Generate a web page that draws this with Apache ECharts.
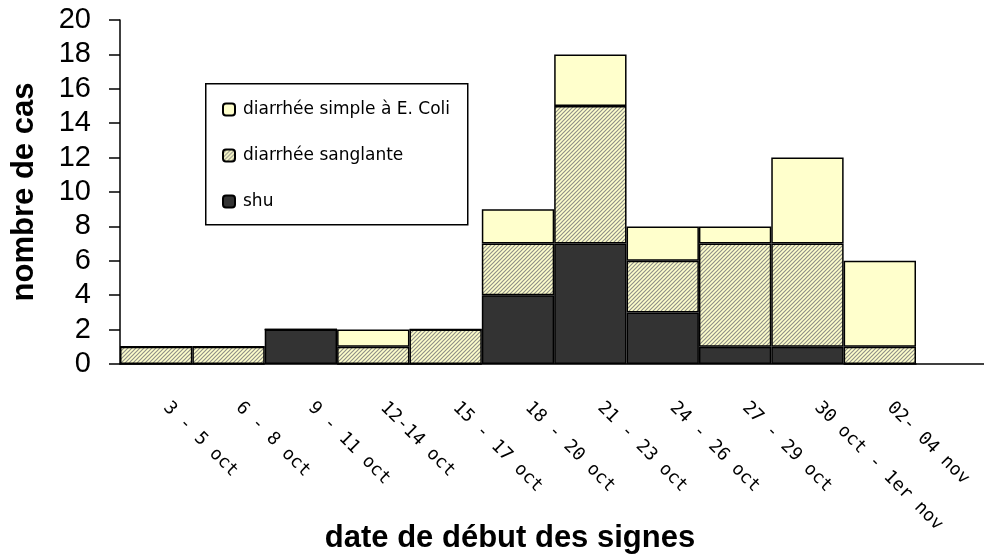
<!DOCTYPE html>
<html><head><meta charset="utf-8">
<script src="https://cdn.jsdelivr.net/npm/echarts@6/dist/echarts.min.js"></script>
<style>html,body{margin:0;padding:0;background:#fff}#c{width:984px;height:558px}</style>
</head><body><div id="c"></div>
<script>
const categories = ["3 - 5 oct", "6 - 8 oct", "9 - 11 oct", "12-14 oct", "15 - 17 oct", "18 - 20 oct", "21 - 23 oct", "24 - 26 oct", "27 - 29 oct", "30 oct - 1er nov", "02- 04 nov"];
const shu = [0, 0, 2, 0, 0, 4, 7, 3, 1, 1, 0];
const sanglante = [1, 1, 0, 1, 2, 3, 8, 3, 6, 6, 1];
const simple = [0, 0, 0, 1, 0, 2, 3, 2, 1, 5, 5];
const seriesNames = ["shu", "diarrhée sanglante", "diarrhée simple à E. Coli"];
const yTicks = [0, 2, 4, 6, 8, 10, 12, 14, 16, 18, 20];

const pc = document.createElement('canvas');
pc.width = 4; pc.height = 4;
const g = pc.getContext('2d');
g.fillStyle = '#FFFFCC'; g.fillRect(0, 0, 4, 4);
g.strokeStyle = '#909088'; g.lineWidth = 1.2;
g.beginPath();
g.moveTo(-1, 5); g.lineTo(5, -1);
g.moveTo(-1, 1); g.lineTo(1, -1);
g.moveTo(3, 5); g.lineTo(5, 3);
g.stroke();
const hatch = { image: pc, repeat: 'repeat' };

const chart = echarts.init(document.getElementById('c'));
const font = 'Liberation Sans, Arial, sans-serif';
function bar(name, data, color) {
  return {
    name: name, type: 'bar', stack: 'all', data: data, barCategoryGap: 0,
    itemStyle: { color: color, borderColor: '#000', borderWidth: 1.5 },
    emphasis: { disabled: true }
  };
}
chart.setOption({
  animation: false,
  textStyle: { fontFamily: font },
  grid: { left: 120, top: 20, bottom: 194, width: 796 },
  legend: {
    left: 222, top: 101, padding: 0, orient: 'vertical', itemGap: 29,
    itemWidth: 12, itemHeight: 12,
    data: [seriesNames[2], seriesNames[1], seriesNames[0]],
    textStyle: { fontSize: 17, lineHeight: 17, color: '#000', fontFamily: 'DejaVu Sans, sans-serif', padding: [0, 0, 0, 3] }
  },
  xAxis: {
    type: 'category', data: categories,
    axisLine: { lineStyle: { color: '#000', width: 1.5 } },
    axisTick: { length: 8, lineStyle: { color: '#000', width: 1.5 } },
    axisLabel: { rotate: -45, interval: 0, fontSize: 18, color: '#000', margin: 31,
      padding: [0, 0, 0, 14], fontFamily: 'DejaVu Sans Mono, monospace' }
  },
  yAxis: {
    type: 'value', min: 0, max: 20, interval: 2,
    name: 'nombre de cas', nameLocation: 'middle', nameGap: 80, nameRotate: 90,
    nameTextStyle: { fontSize: 31, fontWeight: 'bold', color: '#000', fontFamily: font },
    splitLine: { show: false },
    axisLine: { show: true, lineStyle: { color: '#000', width: 1.5 } },
    axisTick: { show: true, length: 11, lineStyle: { color: '#000', width: 1.5 } },
    axisLabel: { fontSize: 29, color: '#000', margin: 29, fontFamily: font,
      formatter: v => yTicks.includes(v) ? String(v) : '' }
  },
  graphic: [
    { type: 'rect', left: 205, top: 83, shape: { width: 262, height: 141 }, z: 0,
      style: { fill: '#fff', stroke: '#000', lineWidth: 1.5 } },
    { type: 'line', shape: { x1: 916, y1: 364, x2: 984, y2: 364 }, z: 5,
      style: { stroke: '#000', lineWidth: 1.5 } },
    { type: 'text', z: 10, x: 510, y: 538,
      style: { text: 'date de début des signes', font: 'bold 31px ' + font, fill: '#000',
        align: 'center', verticalAlign: 'middle' } }
  ],
  series: [
    bar(seriesNames[0], shu, '#333333'),
    bar(seriesNames[1], sanglante, hatch),
    bar(seriesNames[2], simple, '#FFFFCC')
  ]
});
</script></body></html>
